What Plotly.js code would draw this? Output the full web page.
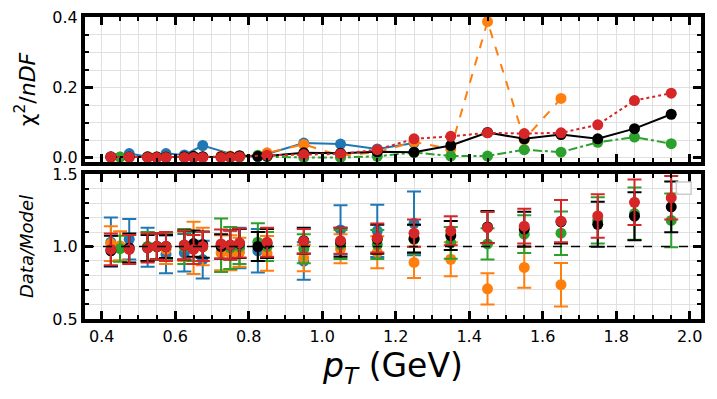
<!DOCTYPE html>
<html>
<head>
<meta charset="utf-8">
<script src="https://cdn.plot.ly/plotly-3.0.1.min.js"></script>
<style>
  html, body { margin: 0; padding: 0; background: #fff; }
  #chi2fit { width: 717px; height: 399px; }
</style>
</head>
<body>
<div id="chi2fit"></div>
<script>
// pT bin centres (GeV)
var ptBins = [0.425, 0.45, 0.475, 0.525, 0.55, 0.575, 0.625, 0.65, 0.675, 0.725, 0.75, 0.775,
              0.825, 0.85, 0.95, 1.05, 1.15, 1.25, 1.35, 1.45, 1.55, 1.65, 1.75, 1.85, 1.95];

// chi2 / nDF per bin
var chiBlue   = [0.003, null, 0.012, 0.003, null, 0.012, 0.008, null, 0.035, null, null, 0.004,
                 0.003, null, 0.042, 0.039, 0.025, 0.042, null, null, null, null, null, null, null];
var chiOrange = [0.002, 0.002, null, 0.003, 0.002, 0.002, 0.002, 0.002, 0.002, 0.005, 0.005, 0.004,
                 null, 0.014, 0.038, 0.006, 0.016, 0.045, 0.025, 0.388, 0.052, 0.169, null, null, null];
var chiGreen  = [null, 0.002, null, 0.002, 0.002, 0.002, 0.002, 0.002, 0.002, 0.002, 0.002, 0.002,
                 0.007, 0.003, 0.001, 0.001, 0.004, 0.015, 0.005, 0.005, 0.023, 0.016, 0.044, 0.059, 0.040];
var chiBlack  = [0.002, null, 0.002, 0.002, 0.002, 0.002, 0.003, 0.004, 0.003, 0.003, 0.003, 0.006,
                 0.004, 0.005, 0.014, 0.013, 0.017, 0.016, 0.035, 0.072, 0.054, 0.066, 0.054, 0.083, 0.124];
var chiRed    = [0.002, null, 0.002, 0.001, 0.001, 0.001, 0.001, 0.001, 0.001, 0.001, 0.001, 0.003,
                 null, 0.007, 0.009, 0.011, 0.023, 0.054, 0.061, 0.071, 0.069, 0.071, 0.094, 0.163, 0.184];

// data / model ratio and its uncertainty
var ratioBlue   = [1.03, null, 1.05, 0.995, null, 0.946, 0.957, null, 0.91, null, null, 0.99,
                   0.97, null, 0.90, 1.114, 1.108, 1.16, null, null, null, null, null, null, null];
var errBlue     = [0.17, null, 0.14, 0.135, null, 0.13, 0.13, null, 0.13, null, null, 0.14,
                   0.15, null, 0.13, 0.17, 0.18, 0.22, null, null, null, null, null, null, null];
var ratioOrange = [1.02, 1.005, null, 1.0, 1.0, 0.98, 1.0, 0.99, 1.0, 0.957, 0.957, 0.96,
                   null, 0.953, 0.92, 0.984, 0.96, 0.89, 0.912, 0.708, 0.856, 0.737, null, null, null];
var errOrange   = [0.12, 0.1, null, 0.1, 0.09, 0.1, 0.1, 0.18, 0.13, 0.12, 0.12, 0.1,
                   null, 0.12, 0.09, 0.1, 0.11, 0.108, 0.117, 0.108, 0.14, 0.15, null, null, null];
var ratioGreen  = [null, 0.985, null, 1.0, 1.0, 1.0, 1.0, 1.0, 1.0, 1.009, 0.99, 1.0,
                   1.03, 1.0, 0.984, 1.013, 1.013, 1.05, 1.025, 1.018, 1.085, 1.092, 1.18, 1.227, 1.18];
var errGreen    = [null, 0.09, null, 0.1, 0.09, 0.09, 0.12, 0.1, 0.1, 0.185, 0.145, 0.12,
                   0.13, 0.1, 0.1, 0.1, 0.1, 0.1, 0.11, 0.108, 0.13, 0.15, 0.16, 0.18, 0.185];
var ratioBlack  = [0.97, null, 0.99, 0.99, 1.0, 1.0, 1.01, 1.02, 1.013, 1.0, 1.01, 1.02,
                   1.0, 1.02, 1.04, 1.03, 1.05, 1.054, 1.076, 1.135, 1.12, 1.17, 1.153, 1.209, 1.274];
var errBlack    = [0.105, null, 0.1, 0.09, 0.09, 0.08, 0.1, 0.09, 0.09, 0.085, 0.1, 0.1,
                   0.1, 0.1, 0.09, 0.1, 0.1, 0.096, 0.1, 0.11, 0.12, 0.15, 0.155, 0.165, 0.175];
var ratioRed    = [0.98, null, 0.98, 0.99, 1.0, 1.0, 1.01, 0.98, 1.0, 1.018, 1.01, 1.025,
                   null, 1.03, 1.036, 1.04, 1.058, 1.092, 1.108, 1.13, 1.14, 1.175, 1.211, 1.305, 1.337];
var errRed      = [0.11, null, 0.1, 0.1, 0.09, 0.1, 0.1, 0.1, 0.1, 0.1, 0.1, 0.1,
                   null, 0.1, 0.085, 0.09, 0.1, 0.094, 0.1, 0.108, 0.12, 0.146, 0.15, 0.157, 0.15];

var series = [
  {chi: chiBlue,   ratio: ratioBlue,   err: errBlue,   color: '#1f77b4', dash: 'solid'},
  {chi: chiOrange, ratio: ratioOrange, err: errOrange, color: '#ff7f0e', dash: 'dash'},
  {chi: chiGreen,  ratio: ratioGreen,  err: errGreen,  color: '#2ca02c', dash: 'dashdot'},
  {chi: chiBlack,  ratio: ratioBlack,  err: errBlack,  color: '#000000', dash: 'solid'},
  {chi: chiRed,    ratio: ratioRed,    err: errRed,    color: '#d62728', dash: 'dot'}
];

var data = [];
series.forEach(function (s) {
  data.push({
    x: ptBins, y: s.chi, xaxis: 'x', yaxis: 'y',
    type: 'scatter', mode: 'lines+markers', connectgaps: true,
    line: {color: s.color, width: 2, dash: s.dash},
    marker: {color: s.color, size: 11},
    showlegend: false, hoverinfo: 'skip', cliponaxis: false
  });
});
series.forEach(function (s) {
  data.push({
    x: ptBins, y: s.ratio, xaxis: 'x2', yaxis: 'y2',
    type: 'scatter', mode: 'markers',
    marker: {color: s.color, size: 11},
    error_y: {type: 'data', array: s.err, visible: true, color: s.color, thickness: 2, width: 7},
    showlegend: false, hoverinfo: 'skip'
  });
});

var tickFont = {family: 'DejaVu Sans', size: 16, color: '#000'};
var gridCol = '#e0e0e0';

function xAx(showLabels, anchor) {
  return {
    anchor: anchor, range: [0.3546, 2.031], dtick: 0.2, tick0: 0, tickformat: '.1f',
    showticklabels: showLabels, tickfont: tickFont,
    ticks: 'inside', ticklen: 8, tickwidth: 3, tickcolor: '#000',
    showline: true, linecolor: '#000', linewidth: 4, mirror: 'allticks',
    showgrid: true, gridcolor: gridCol, gridwidth: 1, zeroline: false,
    minor: {dtick: 0.05, tick0: 0, ticks: 'inside', ticklen: 4, tickwidth: 2, tickcolor: '#000',
            showgrid: true, gridcolor: gridCol, gridwidth: 1}
  };
}

var layout = {
  width: 717, height: 399,
  margin: {l: 85, r: 16, t: 17, b: 80},
  paper_bgcolor: '#fff', plot_bgcolor: '#fff',
  font: {family: 'DejaVu Sans', color: '#000'},
  xaxis: xAx(false, 'y'),
  xaxis2: Object.assign(xAx(true, 'y2'), {
    title: {text: '<i>p</i><sub><i>T</i></sub> (GeV)', font: {size: 33}, standoff: 8}
  }),
  yaxis: {
    domain: [0.5199, 1], range: [-0.012, 0.401], dtick: 0.2, tick0: 0, tickformat: '.1f',
    tickfont: tickFont, ticks: 'inside', ticklen: 8, tickwidth: 3, tickcolor: '#000',
    showline: true, linecolor: '#000', linewidth: 4, mirror: 'allticks',
    showgrid: true, gridcolor: gridCol, zeroline: false,
    minor: {dtick: 0.05, tick0: 0, ticks: 'inside', ticklen: 4, tickwidth: 2, tickcolor: '#000',
            showgrid: true, gridcolor: gridCol},
    title: {text: 'χ<sup>2</sup>/<i>nDF</i>', font: {size: 22}, standoff: 12}
  },
  yaxis2: {
    domain: [0, 0.4801], range: [0.5, 1.5], dtick: 0.5, tick0: 0, tickformat: '.1f',
    tickfont: tickFont, ticks: 'inside', ticklen: 8, tickwidth: 3, tickcolor: '#000',
    showline: true, linecolor: '#000', linewidth: 4, mirror: 'allticks',
    showgrid: true, gridcolor: gridCol, zeroline: false,
    minor: {dtick: 0.1, tick0: 0, ticks: 'inside', ticklen: 4, tickwidth: 2, tickcolor: '#000',
            showgrid: true, gridcolor: gridCol},
    title: {text: '<i>Data/Model</i>', font: {size: 18}, standoff: 15}
  },
  shapes: [
    {type: 'line', xref: 'x2 domain', yref: 'y2', x0: 0, x1: 1, y0: 1, y1: 1,
     line: {color: '#000', width: 1.5, dash: 'dash'}, layer: 'above'},
    // empty legend frame
    {type: 'rect', xref: 'x2 domain', yref: 'y2 domain', x0: 0.96, x1: 0.984, y0: 0.86, y1: 0.945,
     line: {color: '#cccccc', width: 1.5}, fillcolor: 'rgba(255,255,255,0.8)', layer: 'above'}
  ]
};

Plotly.newPlot('chi2fit', data, layout, {staticPlot: true});
</script>
</body>
</html>
